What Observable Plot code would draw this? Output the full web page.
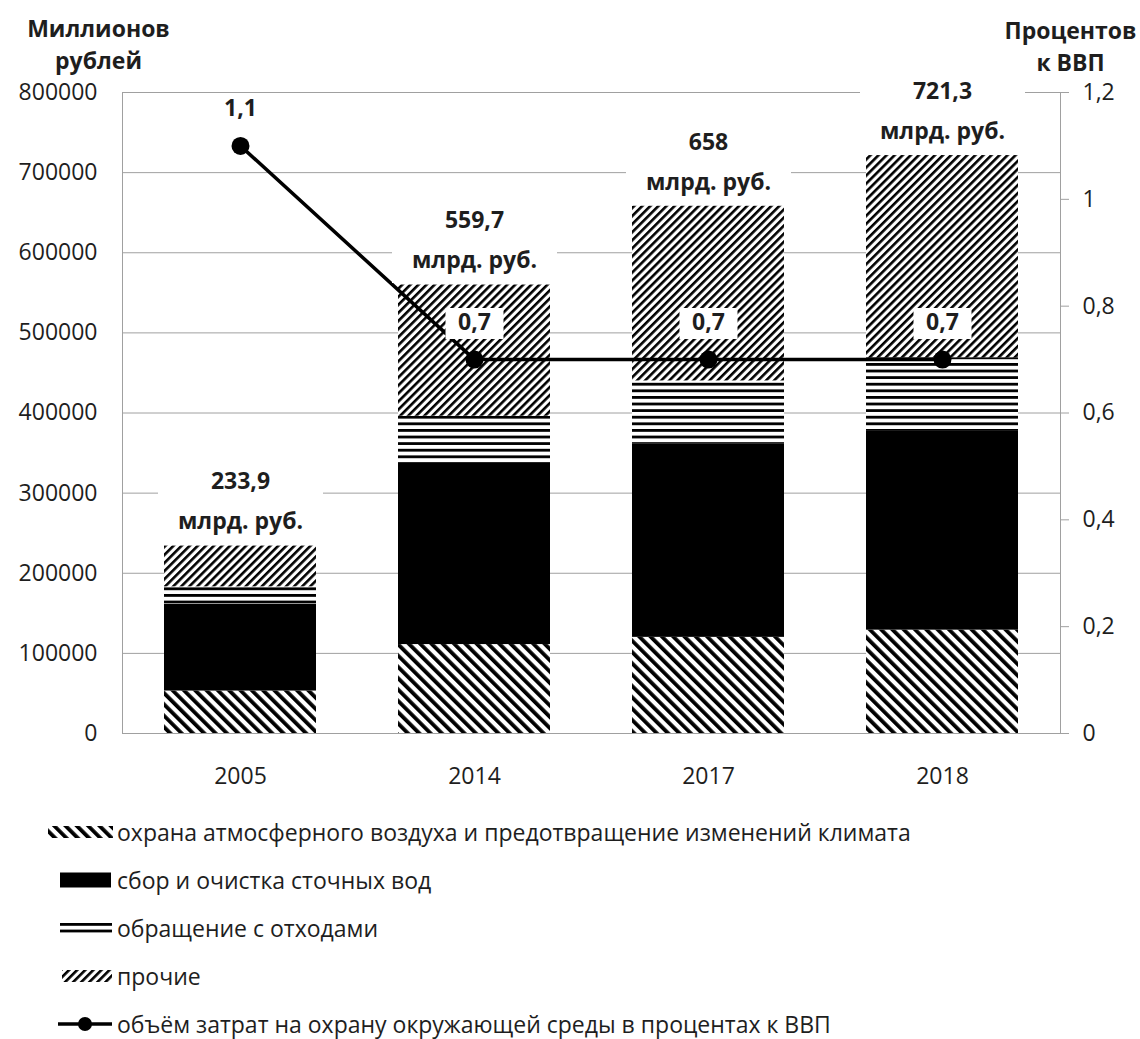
<!DOCTYPE html>
<html><head><meta charset="utf-8">
<script src="https://cdn.jsdelivr.net/npm/d3@7"></script>
<script src="https://cdn.jsdelivr.net/npm/@observablehq/plot@0.6"></script>
<style>
body{margin:0;background:#fff;font-family:"Open Sans",sans-serif;color:#1e1e1e;overflow:hidden}
#legend{margin-left:45px;margin-top:8px}
.item{display:flex;align-items:center;height:48px;font-size:23px;white-space:nowrap}
.item svg{margin-right:0px;flex:none}
</style></head><body>
<svg width="0" height="0" style="position:absolute">
  <defs>
    <pattern id="p-air" patternUnits="userSpaceOnUse" width="8" height="8" patternTransform="rotate(-45)">
      <rect width="8" height="8" fill="white"/><rect width="3.8" height="8" fill="black"/>
    </pattern>
    <pattern id="p-other" patternUnits="userSpaceOnUse" width="5.7" height="8" patternTransform="rotate(45)">
      <rect width="5.7" height="8" fill="white"/><rect width="2.6" height="8" fill="black"/>
    </pattern>
    <pattern id="p-waste" patternUnits="userSpaceOnUse" width="10" height="6.6">
      <rect width="10" height="6.6" fill="white"/><rect width="10" height="2.8" fill="black"/>
    </pattern>
  </defs>
</svg>
<div id="chart"></div>
<div id="legend"></div>
<script>
// ---- data ----
const years = ["2005", "2014", "2017", "2018"];
const categories = [
  "охрана атмосферного воздуха и предотвращение изменений климата",
  "сбор и очистка сточных вод",
  "обращение с отходами",
  "прочие"
];
const airValues    = [53000, 111000, 120000, 129000];
const sewageValues = [108000, 227000, 241000, 249000];
const wasteValues  = [22000, 58000, 79000, 91000];
const otherValues  = [50900, 163700, 218000, 252300];
const totalsBln    = [233.9, 559.7, 658, 721.3];
const totalUnit    = "млрд. руб.";
const gdpPercent   = [1.1, 0.7, 0.7, 0.7];
const lineLabel    = "объём затрат на охрану окружающей среды в процентах к ВВП";
const leftTicks    = [0, 100000, 200000, 300000, 400000, 500000, 600000, 700000, 800000];
const rightTicks   = [0, 0.2, 0.4, 0.6, 0.8, 1, 1.2];
const leftTitle    = "Миллионов\nрублей";
const rightTitle   = "Процентов\nк ВВП";

const fills = ["url(#p-air)", "black", "url(#p-waste)", "url(#p-other)"];
const series = [airValues, sewageValues, wasteValues, otherValues];
const yMax = 800000, pMax = 1.2, K = yMax / pMax;
const fmt = v => String(v).replace(".", ",");

const data = [];
years.forEach((y, i) => categories.forEach((c, j) => data.push({year: y, cat: c, value: series[j][i]})));
const pctData = years.map((y, i) => ({year: y, p: gdpPercent[i], v: gdpPercent[i] * K}));
const totData = years.map((y, i) => ({year: y, total: totalsBln[i] * 1000, label: fmt(totalsBln[i])}));

const box = (w, h) => ({draw(ctx) { ctx.rect(-w / 2, -h / 2, w, h); }});
const grid = "#a0a0a0";

const chart = Plot.plot({
  width: 1140, height: 800,
  marginLeft: 122, marginRight: 80, marginTop: 92, marginBottom: 67,
  style: {fontFamily: '"Open Sans", sans-serif', fontSize: "23px", color: "#1e1e1e", background: "white", overflow: "visible"},
  x: {domain: years, paddingInner: 0.35, paddingOuter: 0.175, label: null},
  y: {domain: [0, yMax], label: null},
  color: {type: "ordinal", domain: categories, range: fills},
  marks: [
    Plot.gridY(leftTicks, {stroke: grid, strokeOpacity: 1}),
    Plot.barY(data, {x: "year", y: "value", fill: "cat", order: categories}),
    Plot.frame({stroke: grid}),
    Plot.axisY(leftTicks, {tickSize: 0, tickPadding: 25, tickFormat: d => String(d), label: null}),
    Plot.axisY(rightTicks.map(p => p * K), {anchor: "right", tickSize: 8, tickPadding: 14, stroke: grid,
      tickFormat: d => fmt(Math.round(d / K * 10) / 10), label: null}),
    Plot.axisX({tickSize: 0, tickPadding: 34, label: null}),
    Plot.line(pctData, {x: "year", y: "v", stroke: "black", strokeWidth: 3.5}),
    Plot.dot(pctData, {x: "year", y: "v", r: 9, fill: "black"}),
    Plot.dot(totData, {x: "year", y: "total", symbol: box(165, 84), fill: "white", dy: -44}),
    Plot.text(totData, {x: "year", y: "total", text: "label", dy: -64, fontWeight: "bold"}),
    Plot.text(totData, {x: "year", y: "total", text: () => totalUnit, dy: -24, fontWeight: "bold"}),
    Plot.dot(pctData, {x: "year", y: "v", symbol: box(58, 31), fill: "white", dy: -36}),
    Plot.text(pctData, {x: "year", y: "v", text: d => fmt(d.p), dy: -37, fontWeight: "bold"}),
    Plot.text([leftTitle], {text: d => d, frameAnchor: "top-left", textAnchor: "middle", dx: -24, dy: -24, lineAnchor: "bottom", lineHeight: 1.38, fontWeight: "bold"}),
    Plot.text([rightTitle], {text: d => d, frameAnchor: "top-right", textAnchor: "middle", dx: 10, dy: -22, lineAnchor: "bottom", lineHeight: 1.38, fontWeight: "bold"})
  ]
});
document.getElementById("chart").appendChild(chart);

// ---- legend ----
const swatches = [
  `<rect x="3" y="18" width="65" height="12" fill="url(#p-air)"/>`,
  `<rect x="15" y="16.5" width="51" height="15" fill="black"/>`,
  `<rect x="15" y="19" width="52" height="2.8" fill="black"/><rect x="15" y="25.6" width="52" height="2.8" fill="black"/>`,
  `<rect x="17" y="18" width="50" height="12" fill="url(#p-other)"/>`,
  `<line x1="13" x2="67" y1="24" y2="24" stroke="black" stroke-width="3.5"/><circle cx="40" cy="24" r="7" fill="black"/>`
];
const labels = [...categories, lineLabel];
const legend = document.getElementById("legend");
labels.forEach((l, i) => {
  const d = document.createElement("div");
  d.className = "item";
  d.innerHTML = `<svg width="72" height="48">${swatches[i]}</svg><span>${l}</span>`;
  legend.appendChild(d);
});
</script>
</body></html>
